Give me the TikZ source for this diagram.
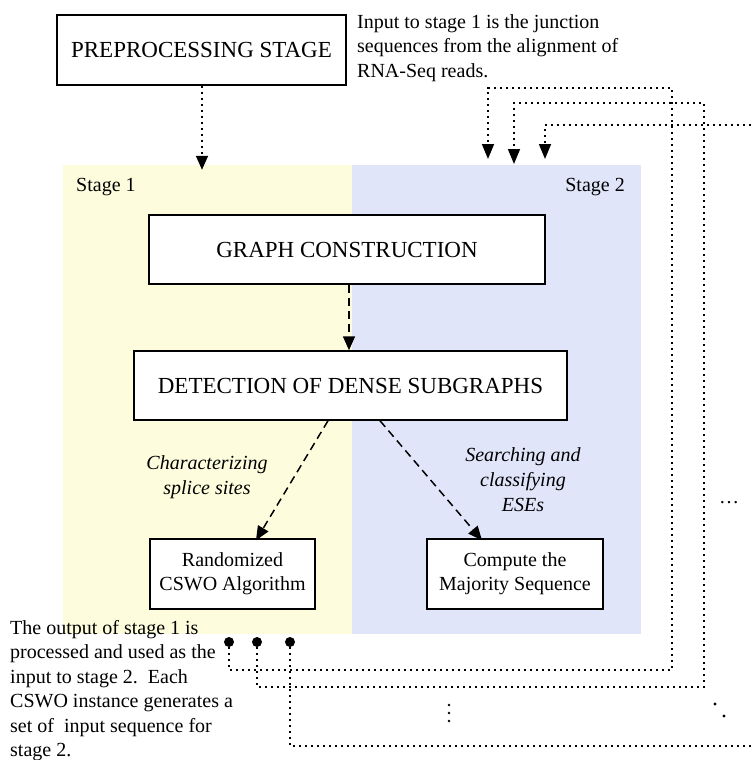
\documentclass[tikz,border=0pt]{standalone}
\usepackage{fontspec}
\setmainfont{Liberation Serif}
\usetikzlibrary{arrows.meta}

\definecolor{stageonecol}{RGB}{253,253,222}
\definecolor{stagetwocol}{RGB}{224,229,250}

\tikzset{
	box/.style = {draw, line width = 1.5pt, fill = white, align = center, inner sep = 0pt, font = \fontsize{20}{24}\selectfont},
	bigbox/.style = {box, font = \fontsize{23}{28}\selectfont},
	note/.style = {align = left, inner sep = 0pt, font = \fontsize{20}{24.5}\selectfont},
	label/.style = {align = center, inner sep = 0pt, font = \fontsize{20}{25}\selectfont\itshape},
	flow/.style = {-{Triangle[length = 14pt, width = 12pt]}, line width = 1.5pt, dash pattern = on 8pt off 5pt},
	feed/.style = {line width = 1.6pt, dash pattern = on 2pt off 4pt},
	feedarrow/.style = {feed, -{Triangle[length = 15pt, width = 12pt]}},
	outdot/.style = {circle, fill = black, inner sep = 0pt, minimum size = 10pt}
}

\begin{document}
\begin{tikzpicture} [x = 1pt, y = -1pt]
	\useasboundingbox (0,0) rectangle (751,760);

	% the two stages
	\node [fill = stageonecol, minimum width = 289pt, minimum height = 469pt, inner sep = 0pt] (stageone) at (207.5,399.5) {};
	\node [fill = stagetwocol, minimum width = 289pt, minimum height = 469pt, inner sep = 0pt] (stagetwo) at (496.5,399.5) {};
	\node [note, anchor = west] (stageonelabel) at (76,187) {Stage 1};
	\node [note, anchor = east] (stagetwolabel) at (625,187) {Stage 2};

	% boxes
	\node [bigbox, minimum width = 289pt, minimum height = 70pt] (prep) at (201.5,50) {PREPROCESSING STAGE};
	\node [bigbox, minimum width = 396pt, minimum height = 69pt] (graph) at (347,249.5) {GRAPH CONSTRUCTION};
	\node [bigbox, minimum width = 433pt, minimum height = 69pt] (dense) at (350.5,385.5) {DETECTION OF DENSE SUBGRAPHS};
	\node [box, minimum width = 165pt, minimum height = 70pt] (cswo) at (232.5,574) {Randomized\\CSWO Algorithm};
	\node [box, minimum width = 176pt, minimum height = 70pt] (majority) at (515,574) {Compute the\\Majority Sequence};

	% notes
	\node [note, anchor = north west] (innote) at (357,14) {Input to stage 1 is the junction\\sequences from the alignment of\\RNA-Seq reads.};
	\node [note, anchor = north west] (outnote) at (10,620) {The output of stage 1 is\\processed and used as the\\input to stage 2.\ \ Each\\CSWO instance generates a\\set of \ input sequence for\\stage 2.};
	\node [label] (splice) at (207,477) {Characterizing\\splice sites};
	\node [label] (ese) at (523,480) {Searching and\\classifying\\ESEs};

	% main flow
	\draw [flow, dash pattern = on 2pt off 4pt, line width = 1.6pt] ([xshift = 0.5pt]prep.south) -- ([xshift = 0.5pt, yshift = -5pt]stageone.north -| prep.south);
	\draw [flow] ([xshift = 2pt]graph.south) -- ([xshift = -1.5pt]dense.north);
	\draw [flow] ([xshift = -22.5pt]dense.south) -- ([xshift = 23.5pt, yshift = -2pt]cswo.north);
	\draw [flow] ([xshift = 29.5pt]dense.south) -- ([xshift = -33pt, yshift = -2pt]majority.north);

	% outputs of stage 1 fed back into stage 2
	\node [outdot] (outone) at (229,642) {};
	\node [outdot] (outtwo) at (257,642) {};
	\node [outdot] (outthree) at (290,642) {};
	\coordinate (inone) at (488,159);
	\coordinate (intwo) at (514,164);
	\coordinate (inthree) at (545,159);
	\coordinate (turnone) at (672,88);
	\coordinate (turntwo) at (704,103);
	\coordinate (edgelow) at (751,746);
	\coordinate (edgehigh) at (751,125);

	\draw [feedarrow] (outone) |- (672,670) -- (turnone) -| (inone);
	\draw [feedarrow] (outtwo) |- (704,687) -- (turntwo) -| (intwo);
	\draw [feed] (outthree) |- (edgelow);
	\draw [feedarrow] (edgehigh) -| (inthree);

	% more instances
	\node [note] (more) at (729,503) {…};
	\foreach \y in {705,713,721}
		\fill (449,\y) circle (1.3pt);
	\fill (715,704) circle (1.6pt);
	\fill (724,716) circle (1.6pt);
\end{tikzpicture}
\end{document}
